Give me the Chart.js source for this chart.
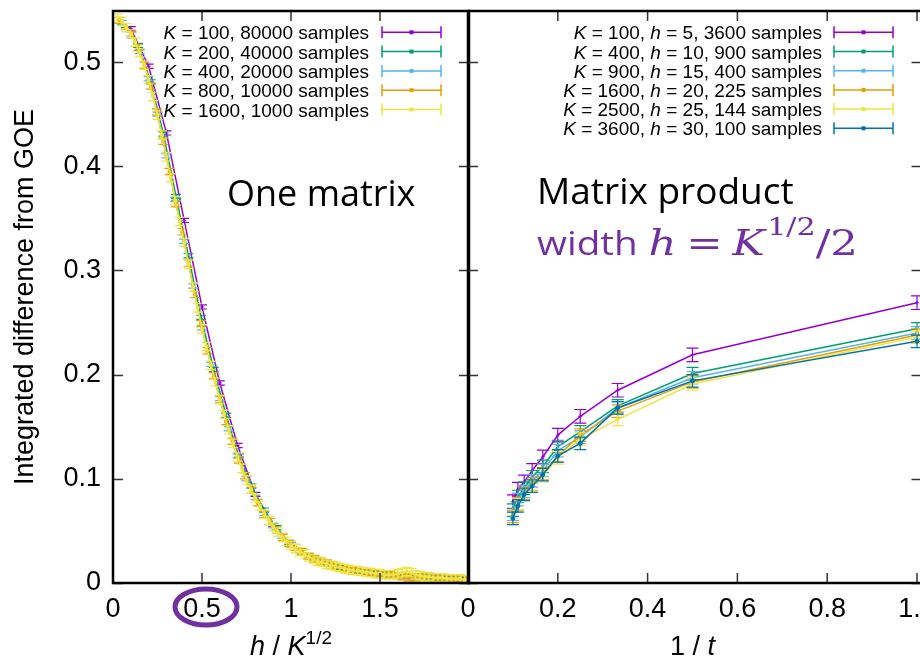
<!DOCTYPE html>
<html lang="en">
<head>
<meta charset="UTF-8">
<title>Integrated difference from GOE</title>
<script src="https://cdn.jsdelivr.net/npm/chart.js"></script>
<style>
  html, body { margin: 0; padding: 0; background: #fff; }
  #wrap { position: relative; width: 920px; height: 661px; overflow: hidden; }
  #wrap canvas { position: absolute; top: 0; }
  #left { left: 0; }
  #right { left: 440px; }
</style>
</head>
<body>
<div id="wrap">
  <canvas id="left" width="474" height="661"></canvas>
  <canvas id="right" width="490" height="661"></canvas>
</div>
<script>
// ---------- data ----------
const colors = ['#9400D3', '#009E73', '#56B4E9', '#E69F00', '#F0E442', '#0072B2'];
const pointStyles = ['cross', 'crossRot', 'rect', 'rect', 'rect', 'circle'];

// left panel: x = h / K^(1/2)
const leftLabels = ['K = 100, 80000 samples', 'K = 200, 40000 samples', 'K = 400, 20000 samples',
                    'K = 800, 10000 samples', 'K = 1600, 1000 samples'];

const xK100 = [0.1, 0.2, 0.3, 0.4, 0.5, 0.6, 0.7, 0.8, 0.9, 1.0, 1.1, 1.2, 1.3, 1.4, 1.5, 1.6, 1.7, 1.8, 1.9, 2.0];
const yK100 = [0.532, 0.496, 0.432, 0.348, 0.265, 0.192, 0.132, 0.085, 0.056, 0.037, 0.026, 0.020, 0.015, 0.012,
               0.010, 0.008, 0.007, 0.006, 0.006, 0.005];

const xK200 = [0.071, 0.141, 0.212, 0.283, 0.354, 0.424, 0.495, 0.566, 0.636, 0.707, 0.778, 0.849, 0.919, 0.990,
               1.061, 1.131, 1.202, 1.273, 1.344, 1.414, 1.485, 1.556, 1.626, 1.697, 1.768, 1.838, 1.909, 1.980];
const yK200 = [0.535, 0.516, 0.481, 0.431, 0.371, 0.314, 0.255, 0.205, 0.161, 0.122, 0.093, 0.070, 0.053, 0.039,
               0.030, 0.024, 0.019, 0.015, 0.012, 0.011, 0.009, 0.008, 0.007, 0.006, 0.006, 0.005, 0.005, 0.004];

const xK400 = [0.05, 0.10, 0.15, 0.20, 0.25, 0.30, 0.35, 0.40, 0.45, 0.50, 0.55, 0.60, 0.65, 0.70, 0.75, 0.80,
               0.85, 0.90, 0.95, 1.00, 1.05, 1.10, 1.15, 1.20, 1.25, 1.30, 1.35, 1.40, 1.45, 1.50, 1.55, 1.60,
               1.65, 1.70, 1.75, 1.80, 1.85, 1.90, 1.95, 2.00];
const yK400 = [0.538, 0.527, 0.510, 0.484, 0.450, 0.410, 0.368, 0.328, 0.285, 0.245, 0.210, 0.177, 0.148, 0.122,
               0.100, 0.082, 0.067, 0.055, 0.045, 0.037, 0.031, 0.026, 0.022, 0.019, 0.016, 0.014, 0.012, 0.011,
               0.010, 0.009, 0.008, 0.007, 0.007, 0.006, 0.006, 0.005, 0.005, 0.005, 0.004, 0.004];

const xK800 = [0.035, 0.071, 0.106, 0.141, 0.177, 0.212, 0.247, 0.283, 0.318, 0.354, 0.389, 0.424, 0.460, 0.495,
               0.530, 0.566, 0.601, 0.636, 0.672, 0.707, 0.742, 0.778, 0.813, 0.849, 0.884, 0.919, 0.955, 0.990,
               1.025, 1.061, 1.096, 1.131, 1.167, 1.202, 1.237, 1.273, 1.308, 1.344, 1.379, 1.414, 1.450, 1.485,
               1.520, 1.556, 1.591, 1.626, 1.662, 1.697, 1.732, 1.768, 1.803, 1.838, 1.874, 1.909, 1.945, 1.980];
const yK800 = [0.540, 0.534, 0.526, 0.514, 0.497, 0.477, 0.452, 0.424, 0.395, 0.364, 0.337, 0.307, 0.277, 0.249,
               0.223, 0.199, 0.176, 0.155, 0.136, 0.118, 0.103, 0.089, 0.077, 0.066, 0.059, 0.051, 0.044, 0.038,
               0.034, 0.030, 0.026, 0.023, 0.021, 0.019, 0.017, 0.015, 0.013, 0.012, 0.011, 0.011, 0.010, 0.009,
               0.009, 0.008, 0.007, 0.006, 0.005, 0.005, 0.006, 0.006, 0.005, 0.005, 0.005, 0.004, 0.004, 0.004];

const xK1600 = [0.025, 0.050, 0.075, 0.100, 0.125, 0.150, 0.175, 0.200, 0.225, 0.250, 0.275, 0.300, 0.325, 0.350,
                0.375, 0.400, 0.425, 0.450, 0.475, 0.500, 0.525, 0.550, 0.575, 0.600, 0.625, 0.650, 0.675, 0.700,
                0.725, 0.750, 0.775, 0.800, 0.825, 0.850, 0.875, 0.900, 0.925, 0.950, 0.975, 1.000, 1.025, 1.050,
                1.075, 1.100, 1.125, 1.150, 1.175, 1.200, 1.225, 1.250, 1.275, 1.300, 1.325, 1.350, 1.375, 1.400,
                1.425, 1.450, 1.475, 1.500, 1.525, 1.550, 1.575, 1.600, 1.625, 1.650, 1.675, 1.700, 1.725, 1.750,
                1.775, 1.800, 1.825, 1.850, 1.875, 1.900, 1.925, 1.950, 1.975, 2.000];
const yK1600 = [0.542, 0.539, 0.533, 0.527, 0.519, 0.509, 0.497, 0.483, 0.467, 0.449, 0.430, 0.409, 0.389, 0.367,
                0.347, 0.327, 0.306, 0.284, 0.264, 0.244, 0.227, 0.209, 0.193, 0.176, 0.162, 0.147, 0.134, 0.121,
                0.110, 0.099, 0.090, 0.081, 0.074, 0.066, 0.060, 0.054, 0.049, 0.044, 0.040, 0.036, 0.033, 0.030,
                0.028, 0.025, 0.023, 0.021, 0.020, 0.018, 0.017, 0.016, 0.015, 0.014, 0.013, 0.012, 0.012, 0.011,
                0.010, 0.010, 0.009, 0.009, 0.008, 0.008, 0.008, 0.009, 0.010, 0.011, 0.010, 0.008, 0.007, 0.006,
                0.006, 0.005, 0.005, 0.005, 0.004, 0.004, 0.004, 0.004, 0.003, 0.003];

const leftX = [xK100, xK200, xK400, xK800, xK1600];
const leftY = [yK100, yK200, yK400, yK800, yK1600];
const leftErr = [0.002, 0.002, 0.002, 0.003, 0.004];   // typical error bar half-height per series

// right panel: x = 1 / t, t = 1..10
const rightLabels = ['K = 100, h = 5, 3600 samples', 'K = 400, h = 10, 900 samples', 'K = 900, h = 15, 400 samples',
                     'K = 1600, h = 20, 225 samples', 'K = 2500, h = 25, 144 samples', 'K = 3600, h = 30, 100 samples'];
const xInvT = [1, 0.5, 0.3333, 0.25, 0.2, 0.1667, 0.1429, 0.125, 0.1111, 0.1];
const yH5  = [0.269, 0.219, 0.185, 0.160, 0.142, 0.121, 0.108, 0.097, 0.090, 0.078];
const yH10 = [0.244, 0.201, 0.170, 0.145, 0.131, 0.112, 0.102, 0.091, 0.083, 0.070];
const yH15 = [0.240, 0.197, 0.168, 0.140, 0.127, 0.108, 0.098, 0.088, 0.080, 0.066];
const yH20 = [0.238, 0.193, 0.165, 0.142, 0.122, 0.105, 0.095, 0.086, 0.076, 0.064];
const yH25 = [0.236, 0.191, 0.157, 0.138, 0.120, 0.103, 0.093, 0.085, 0.075, 0.062];
const yH30 = [0.232, 0.194, 0.168, 0.134, 0.122, 0.104, 0.093, 0.085, 0.074, 0.062];
const rightY = [yH5, yH10, yH15, yH20, yH25, yH30];
const rightErr = [0.0065, 0.006, 0.006, 0.006, 0.006, 0.006];

const yTicks = [0, 0.1, 0.2, 0.3, 0.4, 0.5];

// ---------- helpers ----------
const GP = '"Liberation Sans", Arial, sans-serif';
const MATH = '"DejaVu Serif", serif';
const PURPLE = '#7030A0';

// draw text made of pieces with different fonts; align 'left' | 'right' | 'center'
// fitWidth (optional) squeezes/stretches the whole run to that width
function richText(ctx, parts, x, y, align, fitWidth) {
  let w = 0;
  parts.forEach(p => { ctx.font = p.font; p.w = ctx.measureText(p.t).width + (p.gap || 0); w += p.w; });
  const s = fitWidth ? fitWidth / w : 1;
  const total = w * s;
  let cx = align === 'right' ? x - total : align === 'center' ? x - total / 2 : x;
  ctx.save();
  ctx.textBaseline = 'alphabetic';
  ctx.textAlign = 'left';
  ctx.translate(cx, y);
  ctx.scale(s, 1);
  let px = 0;
  parts.forEach(p => {
    ctx.font = p.font;
    if (p.color) ctx.fillStyle = p.color;
    ctx.fillText(p.t, px, p.dy || 0);
    px += p.w;
  });
  ctx.restore();
}

// K and h in legend labels are italic
function legendParts(label, size) {
  const parts = [];
  label.split(/(\b[Kh](?= =))/).forEach(s => {
    if (!s) return;
    const it = s === 'K' || s === 'h';
    parts.push({ t: s, font: (it ? 'italic ' : '') + size + 'px ' + GP, color: '#000' });
  });
  return parts;
}

// error bars, drawn right after each dataset so the stacking matches
const errorBars = {
  id: 'errorBars',
  afterDatasetDraw(chart, args) {
    const ds = chart.data.datasets[args.index];
    const ys = chart.scales.y;
    const a = chart.chartArea;
    const ctx = chart.ctx;
    const cap = ds.cap || 5;
    ctx.save();
    ctx.beginPath();
    ctx.rect(a.left, a.top, a.right - a.left, a.bottom - a.top);
    ctx.clip();
    ctx.strokeStyle = ds.borderColor;
    ctx.lineWidth = 1.2;
    args.meta.data.forEach((pt, j) => {
      const v = ds.data[j].y;
      const y1 = ys.getPixelForValue(v - ds.err);
      const y2 = ys.getPixelForValue(v + ds.err);
      ctx.beginPath();
      ctx.moveTo(pt.x, y1); ctx.lineTo(pt.x, y2);
      ctx.moveTo(pt.x - cap, y1); ctx.lineTo(pt.x + cap, y1);
      ctx.moveTo(pt.x - cap, y2); ctx.lineTo(pt.x + cap, y2);
      ctx.stroke();
    });
    ctx.restore();
  }
};

// gnuplot style frame with inward ticks on all four sides
const frame = {
  id: 'frame',
  afterDraw(chart) {
    const ctx = chart.ctx, a = chart.chartArea;
    const xs = chart.scales.x, ys = chart.scales.y;
    const L = 10;
    ctx.save();
    ctx.strokeStyle = '#333';
    ctx.lineWidth = 1.5;
    ctx.beginPath();
    yTicks.forEach(v => {
      const y = Math.round(ys.getPixelForValue(v)) + 0.5;
      ctx.moveTo(a.left, y); ctx.lineTo(a.left + L, y);
      ctx.moveTo(a.right, y); ctx.lineTo(a.right - L, y);
    });
    xs.ticks.forEach(t => {
      const x = xs.getPixelForValue(t.value);
      ctx.moveTo(x, a.bottom); ctx.lineTo(x, a.bottom - L);
      ctx.moveTo(x, a.top); ctx.lineTo(x, a.top + L);
    });
    ctx.stroke();
    ctx.strokeStyle = '#000';
    ctx.lineWidth = 2.5;
    ctx.strokeRect(a.left, a.top, a.right - a.left, a.bottom - a.top);
    ctx.restore();
  }
};

// legend: right aligned text, error bar sample on the right
const gpLegend = {
  id: 'gpLegend',
  afterDraw(chart, args, o) {
    const ctx = chart.ctx;
    ctx.save();
    chart.data.datasets.forEach((ds, i) => {
      const y = o.top + i * o.step;
      richText(ctx, legendParts(ds.label, 19), o.textRight, y + 7, 'right');
      ctx.strokeStyle = ds.borderColor;
      ctx.lineWidth = 1.5;
      ctx.beginPath();
      ctx.moveTo(o.lineFrom, y); ctx.lineTo(o.lineTo, y);
      ctx.moveTo(o.lineFrom, y - 6); ctx.lineTo(o.lineFrom, y + 6);
      ctx.moveTo(o.lineTo, y - 6); ctx.lineTo(o.lineTo, y + 6);
      ctx.stroke();
      ctx.fillStyle = ds.borderColor;
      ctx.fillRect((o.lineFrom + o.lineTo) / 2 - 2, y - 2, 4, 4);
    });
    ctx.restore();
  }
};

function makeDatasets(labels, xs, ys, errs, cap) {
  return labels.map((lab, i) => ({
    label: lab,
    data: xs[i].map((x, j) => ({ x: x, y: ys[i][j] })),
    err: errs[i],
    cap: cap,
    borderColor: colors[i],
    backgroundColor: colors[i],
    showLine: true,
    borderWidth: 1.5,
    pointStyle: pointStyles[i],
    pointRadius: 2,
    pointBorderWidth: 1,
    order: labels.length - 1 - i
  }));
}

const tickFont = { family: GP, size: 27 };
const yMax = 0.549;

// ---------- left panel ----------
const leftDecor = {
  id: 'leftDecor',
  afterDraw(chart) {
    const ctx = chart.ctx;
    const xs = chart.scales.x;
    ctx.save();
    ctx.font = '36px "Open Sans", sans-serif';
    ctx.fillStyle = '#000';
    ctx.textAlign = 'left';
    ctx.fillText('One matrix', 227, 206);
    // x axis title  h / K^(1/2)
    ctx.fillStyle = '#000';
    richText(ctx, [
      { t: 'h', font: 'italic 27px ' + GP },
      { t: ' / ', font: '27px ' + GP },
      { t: 'K', font: 'italic 27px ' + GP },
      { t: '1/2', font: '19px ' + GP, dy: -11 }
    ], (chart.chartArea.left + chart.chartArea.right) / 2, 655, 'center');
    // highlight around the 0.5 tick label
    ctx.strokeStyle = PURPLE;
    ctx.lineWidth = 5;
    ctx.beginPath();
    ctx.ellipse(xs.getPixelForValue(0.5) + 4, 607, 31, 18, 0, 0, Math.PI * 2);
    ctx.stroke();
    ctx.restore();
  }
};

new Chart(document.getElementById('left'), {
  type: 'scatter',
  data: { datasets: makeDatasets(leftLabels, leftX, leftY, leftErr, 5) },
  options: {
    responsive: false,
    animation: false,
    devicePixelRatio: 1,
    layout: { padding: { top: 11, right: 1, left: 0, bottom: 0 } },
    plugins: {
      legend: { display: false },
      tooltip: { enabled: false },
      gpLegend: { top: 32.3, step: 19.3, textRight: 369, lineFrom: 382, lineTo: 441 }
    },
    scales: {
      x: {
        type: 'linear', min: 0, max: 2,
        grid: { display: false, drawTicks: false },
        border: { display: false },
        ticks: { stepSize: 0.5, padding: 10, color: '#000', font: tickFont, maxRotation: 0,
                 callback: v => (v === 2 ? '' : v) },
        afterFit: s => { s.height = 78; s.paddingLeft = 0; s.paddingRight = 0; }
      },
      y: {
        type: 'linear', min: 0, max: yMax,
        grid: { display: false, drawTicks: false },
        border: { display: false },
        ticks: { stepSize: 0.1, includeBounds: false, padding: 12, color: '#000', font: tickFont },
        title: { display: true, text: 'Integrated difference from GOE', color: '#000',
                 font: { family: GP, size: 27 }, padding: { top: 9, bottom: 0 } },
        afterFit: s => { s.width = 113; s.paddingTop = 0; s.paddingBottom = 0; }
      }
    }
  },
  plugins: [errorBars, frame, gpLegend, leftDecor]
});

// ---------- right panel ----------
const rightDecor = {
  id: 'rightDecor',
  afterDraw(chart) {
    const ctx = chart.ctx;
    ctx.save();
    ctx.font = '37px "Open Sans", sans-serif';
    ctx.fillStyle = '#000';
    ctx.textAlign = 'left';
    ctx.fillText('Matrix product', 97, 204);
    // width h = K^(1/2)/2, fitted to the span it has in the slide
    richText(ctx, [
      { t: 'width', font: '32px "Open Sans", sans-serif', color: PURPLE, gap: 9 },
      { t: 'h', font: 'italic 36px ' + MATH, gap: 8 },
      { t: '=', font: '36px ' + MATH, gap: 8 },
      { t: 'K', font: 'italic 36px ' + MATH, gap: 2 },
      { t: '1/2', font: '25px ' + MATH, dy: -20 },
      { t: '/2', font: '36px ' + MATH }
    ], 97, 255, 'left', 321);
    // x axis title 1 / t
    ctx.fillStyle = '#000';
    richText(ctx, [
      { t: '1 / ', font: '27px ' + GP, color: '#000' },
      { t: 't', font: 'italic 27px ' + GP }
    ], (chart.chartArea.left + chart.scales.x.getPixelForValue(1)) / 2, 655, 'center');
    ctx.restore();
  }
};

new Chart(document.getElementById('right'), {
  type: 'scatter',
  data: { datasets: makeDatasets(rightLabels, [xInvT, xInvT, xInvT, xInvT, xInvT, xInvT], rightY, rightErr, 6) },
  options: {
    responsive: false,
    animation: false,
    devicePixelRatio: 1,
    layout: { padding: { top: 11, right: 8.5, left: 28, bottom: 0 } },
    plugins: {
      legend: { display: false },
      tooltip: { enabled: false },
      gpLegend: { top: 32.3, step: 19.2, textRight: 382, lineFrom: 394, lineTo: 453 }
    },
    scales: {
      x: {
        type: 'linear', min: 0, max: 1.01,
        grid: { display: false, drawTicks: false },
        border: { display: false },
        ticks: { stepSize: 0.2, includeBounds: false, padding: 10, color: '#000', font: tickFont, maxRotation: 0 },
        afterFit: s => { s.height = 78; s.paddingLeft = 0; s.paddingRight = 0; }
      },
      y: {
        type: 'linear', min: 0, max: yMax, display: false
      }
    }
  },
  plugins: [errorBars, frame, gpLegend, rightDecor]
});
</script>
</body>
</html>
